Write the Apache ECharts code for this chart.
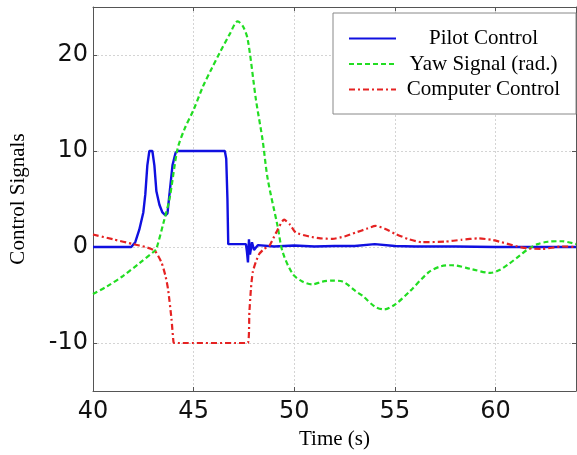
<!DOCTYPE html>
<html>
<head>
<meta charset="utf-8">
<script src="https://cdn.jsdelivr.net/npm/echarts@6/dist/echarts.min.js"></script>
<style>
  html, body { margin: 0; padding: 0; background: #fff; }
  #main { width: 577px; height: 455px; }
</style>
</head>
<body>
<div id="main"></div>
<script>
// values, [time (s), signal]
const pilotControl = [
  [40, 0], [41.9, 0], [42.1, 0.5], [42.3, 1.8], [42.5, 3.6], [42.6, 5.5], [42.7, 8.5],
  [42.8, 10], [42.95, 10], [43.05, 8.5], [43.15, 5.8], [43.3, 4.4], [43.45, 3.6],
  [43.6, 3.3], [43.7, 3.5], [43.8, 5.5], [43.95, 8.5], [44.1, 9.8], [44.2, 10],
  [46.55, 10], [46.62, 9.2], [46.68, 5], [46.72, 0.3], [47.6, 0.3], [47.65, -0.5],
  [47.7, -1.6], [47.75, 0.8], [47.8, -0.8], [47.9, 0.5], [48.0, -0.3], [48.2, 0.2],
  [49, 0.05], [50, 0.15], [51, 0.05], [52, 0.1], [53, 0.1], [54, 0.3], [55, 0.1],
  [56, 0.05], [58, 0.05], [60, 0], [62, 0], [64, 0]
];
const yawSignal = [
  [40, -4.9], [40.7, -4.1], [41.5, -3.0], [42.3, -1.7], [43.07, -0.4], [43.15, -0.2],
  [43.5, 2.5], [43.8, 5], [44.2, 10.2], [44.55, 12.3], [45, 14.3], [45.46, 16.7],
  [45.9, 18.6], [46.29, 20.2], [46.8, 22.2], [47.19, 23.5], [47.45, 23.0], [47.69, 21.6],
  [48.1, 15.3], [48.43, 11.1], [48.68, 7.1], [49.17, 2.2], [49.42, -0.5], [49.92, -2.8],
  [50.4, -3.6], [50.9, -3.9], [51.4, -3.6], [51.9, -3.5], [52.4, -3.6], [53.05, -4.6],
  [53.4, -5.1], [54.0, -6.2], [54.46, -6.5], [55.0, -6.0], [55.7, -4.7], [56.7, -2.6],
  [57.3, -2.0], [57.84, -1.9], [58.8, -2.3], [59.74, -2.7], [60.2, -2.4], [60.64, -1.8],
  [61.2, -0.9], [61.63, -0.2], [62.1, 0.3], [62.6, 0.55], [63.3, 0.6], [64, 0.3]
];
const computerControl = [
  [40, 1.3], [41, 0.8], [42, 0.3], [42.6, 0], [43.07, -0.4], [43.4, -1.6], [43.6, -3],
  [43.73, -4.4], [43.9, -7.5], [44.0, -9.9], [44.05, -10], [47.69, -10], [47.77, -6.8],
  [47.85, -4.3], [47.94, -2.6], [48.1, -1.5], [48.27, -0.7], [48.5, -0.2], [48.76, 0.1],
  [49.1, 1.5], [49.5, 2.85], [49.8, 2.3], [50.08, 1.5], [50.74, 1.1], [51.3, 0.9],
  [51.9, 0.85], [52.5, 1.1], [53.05, 1.5], [53.6, 1.9], [54.04, 2.2], [54.5, 1.9],
  [55.03, 1.36], [55.7, 0.8], [56.35, 0.5], [57.5, 0.56], [58.3, 0.75], [59.16, 0.9],
  [59.8, 0.75], [60.3, 0.5], [61, 0.1], [61.63, -0.15], [62.3, -0.2], [63.3, 0.05], [64, 0]
];
const seriesNames = ['Pilot Control', 'Yaw Signal (rad.)', 'Computer Control'];

const axisColor = '#555';
const tickFont = { fontFamily: 'DejaVu Sans, sans-serif', fontSize: 24, color: '#111' };
const serif = 'Liberation Serif, Times New Roman, serif';
const gridLine = { show: true, lineStyle: { color: '#d4d4d4', type: [2, 2], width: 1 } };

const chart = echarts.init(document.getElementById('main'));
chart.setOption({
  animation: false,
  backgroundColor: '#fff',
  grid: { left: 93, right: 1, top: 7, bottom: 63 },
  legend: {
    orient: 'vertical',
    left: 333, top: 13,
    padding: [15, 10, 14, 15],
    itemWidth: 47, itemHeight: 14, itemGap: 4.5,
    borderColor: '#888', borderWidth: 1, backgroundColor: '#fff',
    data: seriesNames,
    itemStyle: { opacity: 0 },
    formatter: n => '{t|' + n + '}',
    textStyle: {
      rich: { t: { width: 165, lineHeight: 22, align: 'center', fontFamily: serif, fontSize: 21, color: '#000' } }
    }
  },
  xAxis: [{
    type: 'value', min: 40, max: 64, interval: 5,
    name: 'Time (s)', nameLocation: 'middle', nameGap: 38,
    nameTextStyle: { fontFamily: serif, fontSize: 21, color: '#000' },
    axisLine: { show: true, onZero: false, lineStyle: { color: axisColor } },
    axisTick: { inside: true, length: 4, lineStyle: { color: axisColor } },
    axisLabel: Object.assign({ margin: 9, showMaxLabel: false }, tickFont),
    splitLine: gridLine
  }, {
    type: 'value', min: 40, max: 64, interval: 5, position: 'top',
    axisLine: { show: true, onZero: false, lineStyle: { color: axisColor } },
    axisTick: { inside: true, length: 4, lineStyle: { color: axisColor } },
    axisLabel: { show: false }, splitLine: { show: false }
  }],
  yAxis: [{
    type: 'value', min: -15, max: 25, splitNumber: 4,
    name: 'Control Signals', nameLocation: 'middle', nameGap: 64,
    nameTextStyle: { fontFamily: serif, fontSize: 21, color: '#000' },
    axisLine: { show: true, onZero: false, lineStyle: { color: axisColor } },
    axisTick: { inside: true, length: 4, lineStyle: { color: axisColor } },
    axisLabel: Object.assign({ margin: 5, showMinLabel: false, showMaxLabel: false }, tickFont),
    splitLine: gridLine
  }, {
    type: 'value', min: -15, max: 25, splitNumber: 4, position: 'right',
    axisLine: { show: true, onZero: false, lineStyle: { color: axisColor } },
    axisTick: { inside: true, length: 4, lineStyle: { color: axisColor } },
    axisLabel: { show: false }, splitLine: { show: false }
  }],
  series: [{
    name: seriesNames[0], type: 'line', data: pilotControl, symbol: 'none',
    color: '#1010e0', lineStyle: { width: 2.4, color: '#1010e0' }
  }, {
    name: seriesNames[1], type: 'line', data: yawSignal, symbol: 'none', smooth: 0.3,
    color: '#22dd22', lineStyle: { width: 2.2, color: '#22dd22', type: [5, 3] }
  }, {
    name: seriesNames[2], type: 'line', data: computerControl, symbol: 'none', smooth: 0.2,
    color: '#e52222', lineStyle: { width: 2.2, color: '#e52222', type: [6, 3, 2, 3] }
  }]
});
</script>
</body>
</html>
